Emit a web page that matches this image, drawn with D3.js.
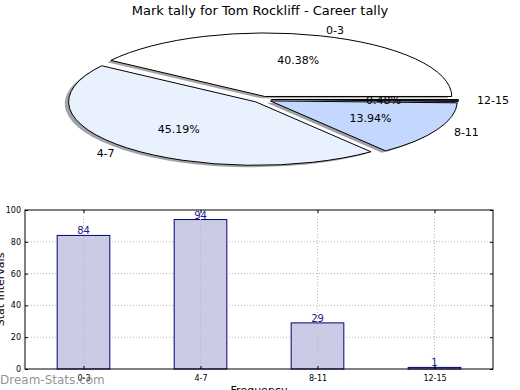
<!DOCTYPE html>
<html>
<head>
<meta charset="utf-8">
<script src="https://cdn.jsdelivr.net/npm/d3@7"></script>
<style>
  body { margin: 0; background: #fff; }
  svg { display: block; font-family: "DejaVu Sans", sans-serif; }
</style>
</head>
<body>
<svg id="chart" width="520" height="390"></svg>
<script>
const categories = ["0-3", "4-7", "8-11", "12-15"];
const tally = [84, 94, 29, 1];
const pieColors = ["#ffffff", "#eaf1fe", "#c4d7ff", "#2a2a3a"];
const yTicks = [0, 20, 40, 60, 80, 100];
const title = "Mark tally for Tom Rockliff - Career tally";

const svg = d3.select("#chart");

// ---- pie (squashed like the source) ----
const cx = 262, cy = 99.5, rx = 187, ry = 63.5;
const explode = 0.05;
const total = d3.sum(tally);

svg.append("text")
  .attr("x", 260).attr("y", 15)
  .attr("text-anchor", "middle")
  .attr("font-size", 13)
  .text(title);

// matplotlib starts at 3 o'clock and goes counter-clockwise
const pie = d3.pie().sort(null).startAngle(Math.PI / 2).endAngle(Math.PI / 2 - 2 * Math.PI);
const arcs = pie(tally);
const arc = d3.arc().innerRadius(0).outerRadius(1);

const pg = svg.append("g").attr("transform", `translate(${cx},${cy}) scale(${rx},${ry})`);

function off(d) {
  const a = (d.startAngle + d.endAngle) / 2;
  return [Math.sin(a) * explode, -Math.cos(a) * explode];
}

// shadows first
arcs.forEach((d, i) => {
  const [ox, oy] = off(d);
  const c = d3.rgb(pieColors[i]);
  pg.append("path")
    .attr("d", arc(d))
    .attr("transform", `translate(${ox - 0.02},${oy + 0.03})`)
    .attr("fill", d3.rgb(c.r * 0.3, c.g * 0.3, c.b * 0.3))
    .attr("fill-opacity", 0.5);
});
arcs.forEach((d, i) => {
  const [ox, oy] = off(d);
  pg.append("path")
    .attr("d", arc(d))
    .attr("transform", `translate(${ox},${oy})`)
    .attr("fill", pieColors[i])
    .attr("stroke", "#000")
    .attr("stroke-width", 1)
    .attr("vector-effect", "non-scaling-stroke");
});

const lg = svg.append("g").attr("font-size", 11);
arcs.forEach((d, i) => {
  const [ox, oy] = off(d);
  const a = (d.startAngle + d.endAngle) / 2;
  const sx = Math.sin(a), sy = -Math.cos(a);
  const lx = cx + (ox + 1.1 * sx) * rx, ly = cy + (oy + 1.1 * sy) * ry;
  lg.append("text")
    .attr("x", lx).attr("y", ly)
    .attr("dy", "0.35em")
    .attr("text-anchor", sx > 0 ? "start" : "end")
    .text(categories[i]);
  const px = cx + (ox + 0.6 * sx) * rx, py = cy + (oy + 0.6 * sy) * ry;
  lg.append("text")
    .attr("x", px).attr("y", py)
    .attr("dy", "0.35em")
    .attr("text-anchor", "middle")
    .text((100 * d.data / total).toFixed(2) + "%");
});

// ---- bar chart ----
const m = { left: 25, right: 493, top: 210, bottom: 369 };
const x = d3.scaleLinear().domain([-0.5, categories.length - 0.5]).range([m.left, m.right]);
const y = d3.scaleLinear().domain([0, 100]).range([m.bottom, m.top]);
const barW = 0.45;

const bg = svg.append("g");
// grid
bg.selectAll(".gy").data(yTicks.slice(1, -1)).join("line")
  .attr("x1", m.left).attr("x2", m.right)
  .attr("y1", d => y(d)).attr("y2", d => y(d))
  .attr("stroke", "#b8b8b8").attr("stroke-dasharray", "1,2");

bg.selectAll(".bar").data(tally).join("rect")
  .attr("x", (d, i) => x(i - barW / 2))
  .attr("width", x(barW) - x(0))
  .attr("y", d => y(d))
  .attr("height", d => y(0) - y(d))
  .attr("fill", "#cbcbe5")
  .attr("stroke", "#000080")
  .attr("stroke-width", 1);

bg.selectAll(".gx").data(categories).join("line")
  .attr("x1", (d, i) => x(i)).attr("x2", (d, i) => x(i))
  .attr("y1", m.top).attr("y2", m.bottom)
  .attr("stroke", "#b8b8b8").attr("stroke-dasharray", "1,2");

bg.selectAll(".val").data(tally).join("text")
  .attr("x", (d, i) => x(i))
  .attr("y", d => y(d) - 1)
  .attr("text-anchor", "middle")
  .attr("font-size", 10)
  .attr("fill", "#1c1c8c")
  .text(d => d);

// frame
bg.append("rect")
  .attr("x", m.left).attr("y", m.top)
  .attr("width", m.right - m.left).attr("height", m.bottom - m.top)
  .attr("fill", "none").attr("stroke", "#000").attr("stroke-width", 1);

// ticks
const yAxis = d3.axisLeft(y).tickValues(yTicks).tickSize(-3).tickPadding(4);
const ya = bg.append("g").attr("transform", `translate(${m.left},0)`).call(yAxis);
ya.select(".domain").remove();
ya.selectAll("text").attr("font-size", 8).attr("font-family", "DejaVu Sans");
const yr = bg.append("g").attr("transform", `translate(${m.right},0)`).call(d3.axisRight(y).tickValues(yTicks).tickSize(-3).tickFormat(""));
yr.select(".domain").remove();

const xAxis = d3.axisBottom(x).tickValues(d3.range(categories.length))
  .tickFormat(i => categories[i]).tickSize(-3).tickPadding(6);
const xa = bg.append("g").attr("transform", `translate(0,${m.bottom})`).call(xAxis);
xa.select(".domain").remove();
xa.selectAll("text").attr("font-size", 8).attr("font-family", "DejaVu Sans");
const xt = bg.append("g").attr("transform", `translate(0,${m.top})`)
  .call(d3.axisTop(x).tickValues(d3.range(categories.length)).tickSize(-3).tickFormat(""));
xt.select(".domain").remove();

svg.append("text")
  .attr("transform", `translate(4,${(m.top + m.bottom) / 2}) rotate(-90)`)
  .attr("text-anchor", "middle")
  .attr("font-size", 11)
  .text("Stat Intervals");

svg.append("text")
  .attr("x", (m.left + m.right) / 2).attr("y", 394)
  .attr("text-anchor", "middle")
  .attr("font-size", 11)
  .text("Frequency");

svg.append("text")
  .attr("x", 0).attr("y", 384)
  .attr("font-size", 12)
  .attr("fill", "#808080")
  .attr("fill-opacity", 0.85)
  .text("Dream-Stats.com");
</script>
</body>
</html>
